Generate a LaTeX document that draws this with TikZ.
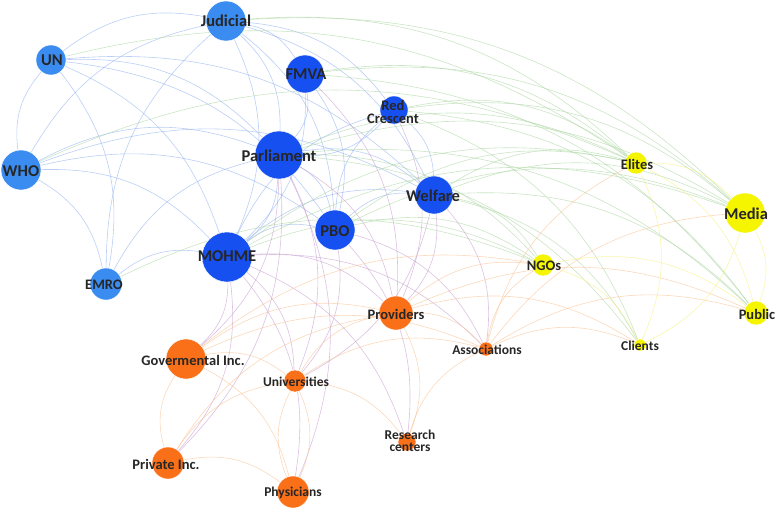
\documentclass[tikz,border=0pt]{standalone}
\usepackage{fontspec}
\setmainfont{Carlito}
\pgfdeclarelayer{bg}
\pgfsetlayers{bg,main}
\definecolor{dblue}{RGB}{22,80,240}
\definecolor{lblue}{RGB}{58,140,240}
\definecolor{nor}{RGB}{250,112,24}
\definecolor{nye}{RGB}{245,245,0}
\definecolor{eblue}{RGB}{150,180,240}
\definecolor{egreen}{RGB}{175,215,165}
\definecolor{epurple}{RGB}{200,160,210}
\definecolor{eorange}{RGB}{250,195,150}
\definecolor{eyellow}{RGB}{245,240,130}
\tikzset{
  nd/.style={circle,inner sep=0pt,draw=white,line width=0.4pt},
  lab/.style={inner sep=0pt,font=\bfseries\fontsize{16.5}{17}\selectfont,text=black!85},
  labm/.style={lab,font=\bfseries\fontsize{14.5}{15}\selectfont},
  labs/.style={lab,font=\bfseries\fontsize{13.5}{14}\selectfont},
  ed/.style={line width=0.6pt,opacity=0.65,bend left=24},
  bb/.style={ed,draw=eblue},
  bg/.style={ed,draw=egreen},
  bp/.style={ed,draw=epurple},
  oo/.style={ed,draw=eorange},
  yy/.style={ed,draw=eyellow},
}
\begin{document}
\begin{tikzpicture}[x=1pt,y=-1pt]
\useasboundingbox (0,0) rectangle (778,511);
% nodes
\node[nd,fill=lblue,minimum size=40] (JU) at (226,21) {};
\node[nd,fill=lblue,minimum size=30] (UN) at (51,60) {};
\node[nd,fill=dblue,minimum size=38] (FM) at (305,74) {};
\node[nd,fill=dblue,minimum size=28] (RC) at (394,110) {};
\node[nd,fill=dblue,minimum size=48] (PA) at (279,155) {};
\node[nd,fill=lblue,minimum size=40] (WH) at (21,170) {};
\node[nd,fill=dblue,minimum size=38] (WE) at (434,195) {};
\node[nd,fill=dblue,minimum size=40] (PB) at (335,230) {};
\node[nd,fill=dblue,minimum size=50] (MO) at (227,257) {};
\node[nd,fill=lblue,minimum size=32] (EM) at (106,284) {};
\node[nd,fill=nye,minimum size=22] (EL) at (636,163) {};
\node[nd,fill=nye,minimum size=40] (ME) at (745,213) {};
\node[nd,fill=nye,minimum size=22] (NG) at (543,265) {};
\node[nd,fill=nye,minimum size=24] (PU) at (756,313) {};
\node[nd,fill=nye,minimum size=12] (CL) at (640,345) {};
\node[nd,fill=nor,minimum size=34] (PR) at (396,313) {};
\node[nd,fill=nor,minimum size=14] (AS) at (486,349) {};
\node[nd,fill=nor,minimum size=40] (GO) at (186,359) {};
\node[nd,fill=nor,minimum size=22] (UV) at (295,381) {};
\node[nd,fill=nor,minimum size=18] (RE) at (407,442) {};
\node[nd,fill=nor,minimum size=32] (PI) at (168,463) {};
\node[nd,fill=nor,minimum size=32] (PH) at (293,492) {};
% labels
\node[lab] (JUl) at (226,21) {Judicial};
\node[lab] (UNl) at (52,60) {UN};
\node[lab] (FMl) at (306,74) {FMVA};
\node[labm,align=center] (RCl) at (393,112) {Red\\[-2pt]Crescent};
\node[lab] (PAl) at (279,156) {Parliament};
\node[lab] (WHl) at (21,171) {WHO};
\node[lab] (WEl) at (433,196) {Welfare};
\node[lab] (PBl) at (335,231) {PBO};
\node[lab] (MOl) at (227,256) {MOHME};
\node[labm] (EMl) at (104,285) {EMRO};
\node[labm] (ELl) at (637,164) {Elites};
\node[lab] (MEl) at (746,214) {Media};
\node[labm] (NGl) at (544,266) {NGOs};
\node[labm] (PUl) at (757,314) {Public};
\node[labs] (CLl) at (640,346) {Clients};
\node[labm] (PRl) at (396,314) {Providers};
\node[labs] (ASl) at (487,350) {Associations};
\node[labm] (GOl) at (193,360) {Govermental Inc.};
\node[labs] (UVl) at (296,382) {Universities};
\node[labs,align=center] (REl) at (410,441) {Research\\[-2pt]centers};
\node[labm] (PIl) at (166,464) {Private Inc.};
\node[labs] (PHl) at (293,493) {Physicians};
% edges
\begin{pgfonlayer}{bg}
% blue-blue
\foreach \a/\b in {UN/JU,JU/FM,JU/RC,JU/WE,JU/PA,JU/MO,JU/PB,WH/JU,EM/JU,
  WH/UN,UN/PA,UN/MO,UN/PB,UN/EM,UN/WE,
  WH/PA,WH/MO,WH/PB,WH/WE,WH/EM,
  FM/PA,FM/MO,FM/PB,RC/PA,MO/RC,RC/WE,PB/RC,
  PA/MO,PA/PB,PA/WE,MO/WE,PB/WE,MO/PB,EM/MO,EM/PA}
  \draw[bb] (\a) to (\b);
% blue-yellow
\foreach \a/\b in {JU/ME,UN/EL,FM/EL,FM/ME,FM/PU,RC/EL,RC/ME,RC/CL,RC/PU,
  PA/EL,PA/ME,PA/NG,PA/PU,PA/CL,WE/CL,WE/PU,WE/NG,WE/ME,WE/EL,
  PB/ME,PB/NG,PB/EL,MO/ME,MO/EL,MO/NG,WH/EL,EM/NG,JU/EL}
  \draw[bg] (\a) to (\b);
% blue-orange
\foreach \a/\b in {MO/PR,MO/UV,MO/PI,MO/GO,MO/PH,MO/AS,MO/RE,
  PA/PR,PA/GO,PA/PI,PA/UV,PA/PH,FM/PR,RC/PR,WE/AS,WE/PR,WE/UV,
  PB/RE,PB/UV,PB/AS}
  \draw[bp] (\a) to (\b);
% orange-orange
\foreach \a/\b in {GO/UV,GO/PR,GO/PH,PI/GO,UV/PR,UV/RE,PH/UV,UV/PH,
  UV/AS,PI/UV,PI/PH,PI/PR,PR/AS,RE/AS,GO/AS,PR/RE}
  \draw[oo] (\a) to (\b);
% orange-yellow
\foreach \a/\b in {AS/ME,AS/PU,AS/CL,AS/NG,AS/EL,PR/NG,PR/PU,PR/CL,GO/NG}
  \draw[oo] (\a) to (\b);
% yellow-yellow
\foreach \a/\b in {EL/CL,EL/PU,NG/CL,NG/PU,ME/CL,ME/PU,EL/ME}
  \draw[yy] (\a) to (\b);
\end{pgfonlayer}
\end{tikzpicture}
\end{document}
